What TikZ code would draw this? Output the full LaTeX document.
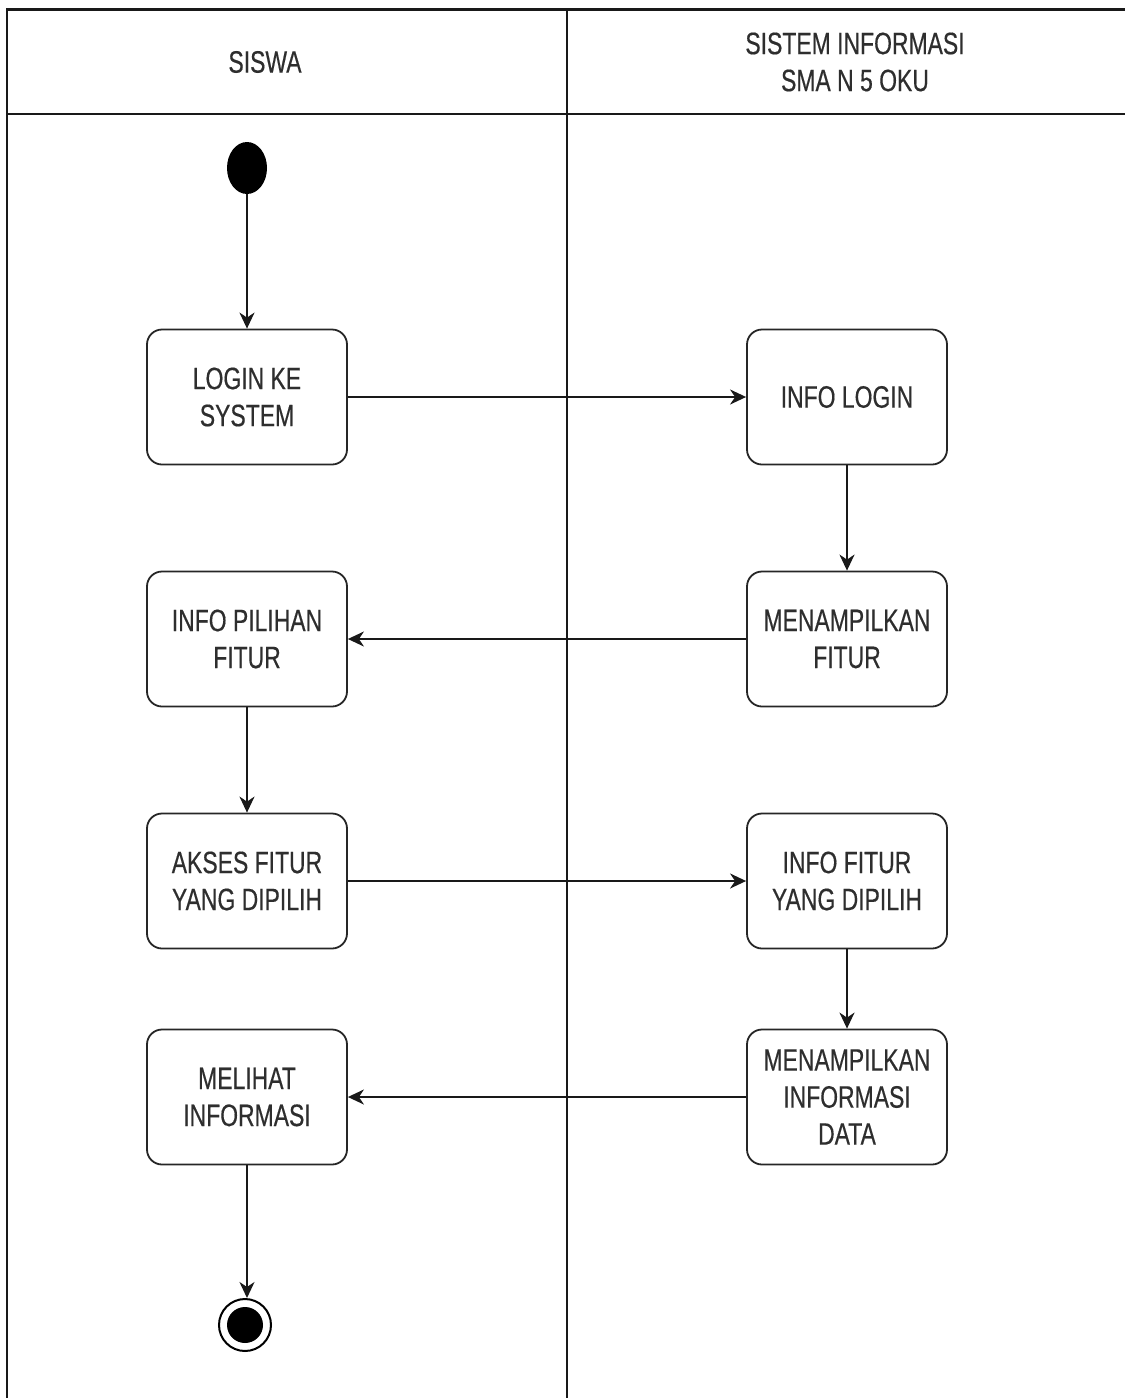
\documentclass[tikz,border=0pt]{standalone}
\usepackage{fontspec}
\setmainfont{Liberation Sans}[FakeStretch=0.74,FakeBold=0.4]
\usetikzlibrary{arrows.meta,shapes.geometric}
\begin{document}
\begin{tikzpicture}[x=1pt,y=-1pt,
  lbl/.style={font=\fontsize{31}{37}\selectfont, text=black!82, align=center},
  act/.style={lbl, draw=black!85, line width=1.8pt, rounded corners=15pt,
    minimum width=200pt, minimum height=135pt, inner sep=0pt},
  flow/.style={draw=black!90, line width=1.8pt,
    -{Stealth[length=16pt,width=15pt,inset=5pt]}},
  lane/.style={draw=black!90, line width=2pt}]
\useasboundingbox (0,0) rectangle (1125,1398);
\fill[white] (0,0) rectangle (1125,1398);

% swimlane frame
\draw[lane, line width=3pt] (6,9) -- (1125,9);
\draw[lane] (7,9) -- (7,1398);
\draw[lane] (567,9) -- (567,1398);
\draw[lane] (7,114) -- (1125,114);
\node[lbl] (h1) at (265,62) {SISWA};
\node[lbl] (h2) at (855,62) {SISTEM INFORMASI\\SMA N 5 OKU};

% initial and final states
\node[ellipse, fill=black, draw=none, minimum width=40pt, minimum height=52pt,
  inner sep=0pt] (start) at (247,168) {};
\node[circle, draw=black, line width=2pt, minimum size=52pt, inner sep=0pt]
  (end) at (245,1325) {};
\fill[black] (end.center) circle (18pt);

% activities: SISWA
\node[act] (login) at (247,397) {LOGIN KE\\SYSTEM};
\node[act] (pilihan) at (247,639) {INFO PILIHAN\\FITUR};
\node[act] (akses) at (247,881) {AKSES FITUR\\YANG DIPILIH};
\node[act] (melihat) at (247,1097) {MELIHAT\\INFORMASI};

% activities: SISTEM INFORMASI
\node[act] (infologin) at (847,397) {INFO LOGIN};
\node[act] (tampilfitur) at (847,639) {MENAMPILKAN\\FITUR};
\node[act] (infofitur) at (847,881) {INFO FITUR\\YANG DIPILIH};
\node[act] (tampildata) at (847,1097) {MENAMPILKAN\\INFORMASI\\DATA};

% control flow
\draw[flow] (start) -- (login);
\draw[flow] (login) -- (infologin);
\draw[flow] (infologin) -- (tampilfitur);
\draw[flow] (tampilfitur) -- (pilihan);
\draw[flow] (pilihan) -- (akses);
\draw[flow] (akses) -- (infofitur);
\draw[flow] (infofitur) -- (tampildata);
\draw[flow] (tampildata) -- (melihat);
\draw[flow] (melihat.south) -- (melihat.south |- end.north);
\end{tikzpicture}
\end{document}
